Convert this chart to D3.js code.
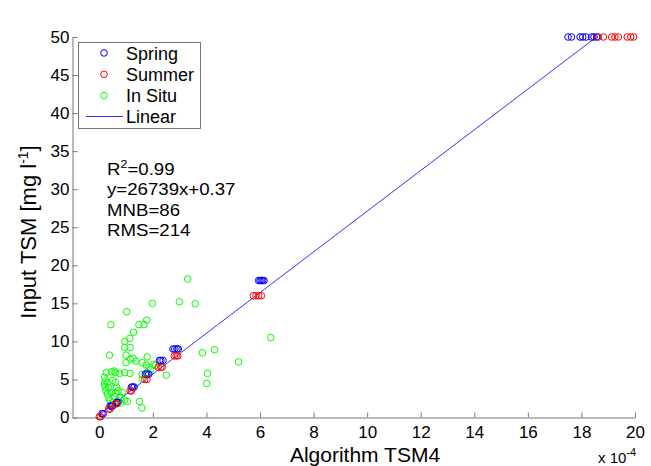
<!DOCTYPE html>
<html><head><meta charset="utf-8">
<script src="https://cdn.jsdelivr.net/npm/d3@7"></script>
<style>body{margin:0;background:#fff}svg{display:block}text{font-family:"Liberation Sans",Arial,sans-serif}</style>
</head><body><svg id="c" width="651" height="466"></svg>
<script>
// x values in units of 1e-4
const springData = [
  [0.10,0.5],[0.15,0.5],[0.40,1.5],[0.45,1.5],[0.50,1.5],[0.65,2.0],[0.70,2.0],
  [1.20,4.0],[1.25,4.0],[1.30,4.0],[1.72,5.7],[1.78,5.7],[1.85,5.7],
  [2.25,7.5],[2.30,7.5],[2.38,7.5],[2.75,9.0],[2.82,9.0],[2.90,9.0],[2.95,9.0],
  [5.95,18],[6.00,18],[6.05,18],[6.10,18],[6.15,18],
  [17.50,50],[17.63,50],[17.95,50],[18.05,50],[18.17,50],[18.38,50],[18.47,50],[18.57,50]
];
const summerData = [
  [0.00,0.1],[0.05,0.1],[0.35,1.1],[0.40,1.1],[0.60,1.8],[0.65,1.8],
  [1.15,3.5],[1.20,3.5],[1.70,5.0],[1.78,5.0],[2.20,6.6],[2.30,6.6],[2.35,6.6],
  [2.80,8.1],[2.87,8.1],[2.93,8.1],
  [5.75,16],[5.85,16],[5.95,16],[6.05,16],
  [18.63,50],[18.82,50],[19.13,50],[19.25,50],[19.38,50],[19.71,50],[19.84,50],[19.95,50]
];
const inSituData = [
  [3.3,18.2],[1.98,15.0],[2.99,15.2],[3.58,14.95],[1.02,13.9],[0.43,12.2],[1.77,12.8],[1.67,12.2],
  [1.48,12.2],[1.28,11.2],[1.14,10.4],[0.95,10.0],[0.95,9.2],[1.15,9.2],[0.38,8.2],[1.0,8.2],
  [1.17,7.65],[1.26,7.8],[1.0,7.2],[1.36,7.4],[1.79,7.96],[1.6,7.2],[1.75,6.9],[2.04,7.0],
  [2.1,6.86],[1.91,6.3],[3.85,8.5],[4.3,8.9],[5.2,7.3],[6.4,10.5],[4.04,5.8],[4.01,4.47],
  [2.5,5.57],[1.78,5.9],[1.6,5.66],[1.62,5.0],[0.26,5.9],[0.45,6.0],[0.55,6.1],[0.6,5.9],
  [0.75,5.8],[0.95,5.9],[1.15,5.8],[0.2,5.3],[0.22,4.8],[0.2,4.4],[0.22,4.0],[0.25,3.5],
  [0.3,3.1],[0.35,2.6],[0.4,2.2],[0.45,1.7],[0.5,4.9],[0.6,4.6],[0.65,4.0],[0.7,3.5],
  [0.6,3.2],[0.85,3.3],[0.8,2.6],[0.95,2.3],[0.8,1.9],[1.5,2.1],[1.59,1.25],[1.05,2.1],
  [0.35,3.9],[0.45,3.3],[0.55,2.8],[0.3,4.6],[0.7,2.2],[1.85,6.6]
];
const fitSlope = 2.6739, fitIntercept = 0.37; // y = 26739x + 0.37 (x in 1e-4 units)
const fitRange = [0, 18.56];
const xTicks = [0,2,4,6,8,10,12,14,16,18,20];
const yTicks = [0,5,10,15,20,25,30,35,40,45,50];
const statsLines = ["R2=0.99","y=26739x+0.37","MNB=86","RMS=214"];
const legendItems = [["Spring","#0000ff"],["Summer","#ff0000"],["In Situ","#00ff00"]];

const svg = d3.select("#c");
const m = {l:72.5, r:635, t:37, b:417.5};
const x = d3.scaleLinear().domain([-1,20]).range([m.l,m.r]);
const y = d3.scaleLinear().domain([0,50]).range([m.b,m.t]);
const axisCol = "#777";

const xa = svg.append("g").attr("transform",`translate(0,${m.b})`)
  .call(d3.axisBottom(x).tickValues(xTicks).tickSizeInner(-5).tickSizeOuter(0).tickPadding(8));
const ya = svg.append("g").attr("transform",`translate(${m.l},0)`)
  .call(d3.axisLeft(y).tickValues(yTicks).tickSizeInner(-5).tickSizeOuter(0).tickPadding(3));
[xa,ya].forEach(a=>{
  a.select(".domain").attr("stroke",axisCol);
  a.selectAll(".tick line").attr("stroke",axisCol);
  a.selectAll(".tick text").attr("fill","#000").style("font-size","17px").style("font-family","Liberation Sans, Arial, sans-serif");
});

// fit line
svg.append("line")
  .attr("x1",x(fitRange[0])).attr("y1",y(fitSlope*fitRange[0]+fitIntercept))
  .attr("x2",x(fitRange[1])).attr("y2",y(fitSlope*fitRange[1]+fitIntercept))
  .attr("stroke","#3333ff").attr("stroke-width",1);

function drawPts(data,col){
  svg.append("g").selectAll("circle").data(data).join("circle")
    .attr("cx",d=>x(d[0])).attr("cy",d=>y(d[1])).attr("r",3.3)
    .attr("fill","none").attr("stroke",col).attr("stroke-width",1);
}
drawPts(inSituData,"#00ff00");
drawPts(springData,"#0000ff");
drawPts(summerData,"#ff0000");

// legend
const lg = svg.append("g");
lg.append("rect").attr("x",78.5).attr("y",42.5).attr("width",122).attr("height",86)
  .attr("fill","#fff").attr("stroke",axisCol);
legendItems.forEach((it,i)=>{
  const yy = 53 + i*21.3;
  lg.append("circle").attr("cx",104).attr("cy",yy).attr("r",3.3).attr("fill","none").attr("stroke",it[1]);
  lg.append("text").attr("x",126).attr("y",yy+6.5).style("font-size","18px").text(it[0]);
});
lg.append("line").attr("x1",86).attr("x2",123).attr("y1",116.5).attr("y2",116.5).attr("stroke","#3333ff");
lg.append("text").attr("x",126).attr("y",123).style("font-size","18px").text("Linear");

// stats
const st = svg.append("g").attr("transform","translate(107,0) scale(1.13,1)").style("font-size","16.5px");
statsLines.forEach((s,i)=>{
  const t = st.append("text").attr("x",0).attr("y",175+i*20.5);
  if(s.startsWith("R2")){
    t.append("tspan").text("R");
    t.append("tspan").attr("dy",-6.5).style("font-size","11px").text("2");
    t.append("tspan").attr("dy",6.5).text(s.slice(2));
  } else t.text(s);
});

// axis titles
svg.append("text").attr("x",365).attr("y",462).attr("text-anchor","middle").style("font-size","21px").text("Algorithm TSM4");
const xt = svg.append("text").attr("x",598).attr("y",463).style("font-size","15px");
xt.append("tspan").text("x 10");
xt.append("tspan").attr("dy",-7).style("font-size","11px").text("-4");
const yl = svg.append("text").attr("transform","translate(36,232) rotate(-90)").attr("text-anchor","middle").style("font-size","22px");
yl.append("tspan").text("Input TSM [mg l");
yl.append("tspan").attr("dy",-8).style("font-size","14px").text("-1");
yl.append("tspan").attr("dy",8).text("]");
</script></body></html>
